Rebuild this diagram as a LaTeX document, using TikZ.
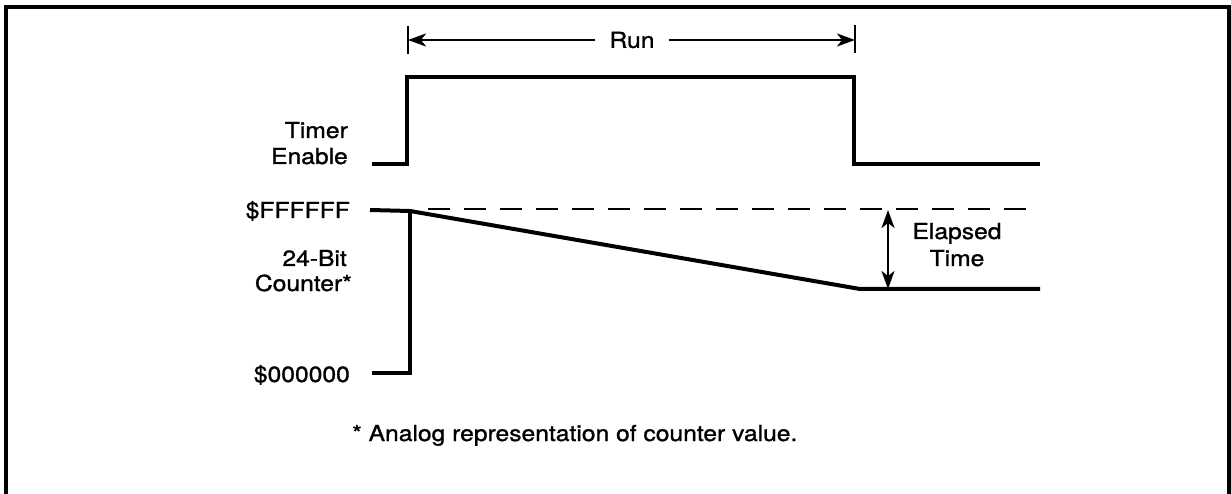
\documentclass[tikz,border=0pt]{standalone}
\usepackage{fontspec}
\setmainfont{TeX Gyre Heros}[FakeStretch=1.12,FakeBold=1.2]
\usetikzlibrary{arrows.meta}
\begin{document}
\begin{tikzpicture}[x=1pt,y=-1pt,
  sig/.style={line width=4pt,line join=miter},
  tip/.tip={Stealth[length=18pt,width=13pt,inset=5pt]},
  dim/.style={line width=2.2pt,-tip},
  dimboth/.style={line width=2.2pt,tip-tip},
  lbl/.style={font=\fontsize{22}{26}\selectfont,inner sep=0pt},
  frame/.style={line width=4pt}]
\useasboundingbox (0,0) rectangle (1231,494);
\draw[frame] (6,500) -- (6,7) -- (1229,7) -- (1229,500);
% coordinates
\coordinate (te0) at (372,164);
\coordinate (te1) at (407,164);
\coordinate (te2) at (407,77);
\coordinate (te3) at (854,77);
\coordinate (te4) at (854,164);
\coordinate (te5) at (1040,164);
\coordinate (c0) at (372,373);
\coordinate (c1) at (410,373);
\coordinate (c2) at (410,213);
\coordinate (cf0) at (370,210);
\coordinate (cf1) at (410,211);
\coordinate (c3) at (860,289);
\coordinate (c4) at (1040,289);
\coordinate (d0) at (428,209);
\coordinate (d1) at (1040,209);
\coordinate (rl) at (408,40);
\coordinate (rr) at (855,40);
\coordinate (et) at (888,210);
\coordinate (eb) at (888,289);
% timer enable
\draw[sig] (te0) -- (te1) -- (te2) -- (te3) -- (te4) -- (te5);
% counter
\draw[sig] (c0) -- (c1) -- (c2);
\draw[sig] (cf0) -- (cf1) -- (c3) -- (c4);
\draw[line width=2.5pt,dash pattern=on 22pt off 14pt] (d0) -- (d1);
% run arrow
\draw[line width=2.2pt] (408,26) -- (408,54);
\draw[line width=2.2pt] (855,25) -- (855,53);
\node[lbl] (run) at (632,40) {Run};
\draw[dim] (run.west) ++(-14,0) coordinate (rla) -- (rl);
\draw[dim] (run.east) ++(14,0) coordinate (rra) -- (rr);
% elapsed
\draw[dimboth] (et) -- (eb);
\node[lbl,anchor=base] (el) at (957,239) {Elapsed};
\node[lbl,anchor=base] (tm) at (957,266) {Time};
% labels
\node[lbl,anchor=base east] (timer) at (348,138) {Timer};
\node[lbl,anchor=base east] (enable) at (348,164) {Enable};
\node[lbl,anchor=base east] (ff) at (350,218) {\$FFFFFF};
\node[lbl,anchor=base east] (bit) at (347,266) {24-Bit};
\node[lbl,anchor=base east] (cnt) at (352,291) {Counter*};
\node[lbl,anchor=base east] (zz) at (350,382) {\$000000};
\node[lbl,anchor=base west] (fn) at (352,441) {* Analog representation of counter value.};
\end{tikzpicture}
\end{document}
